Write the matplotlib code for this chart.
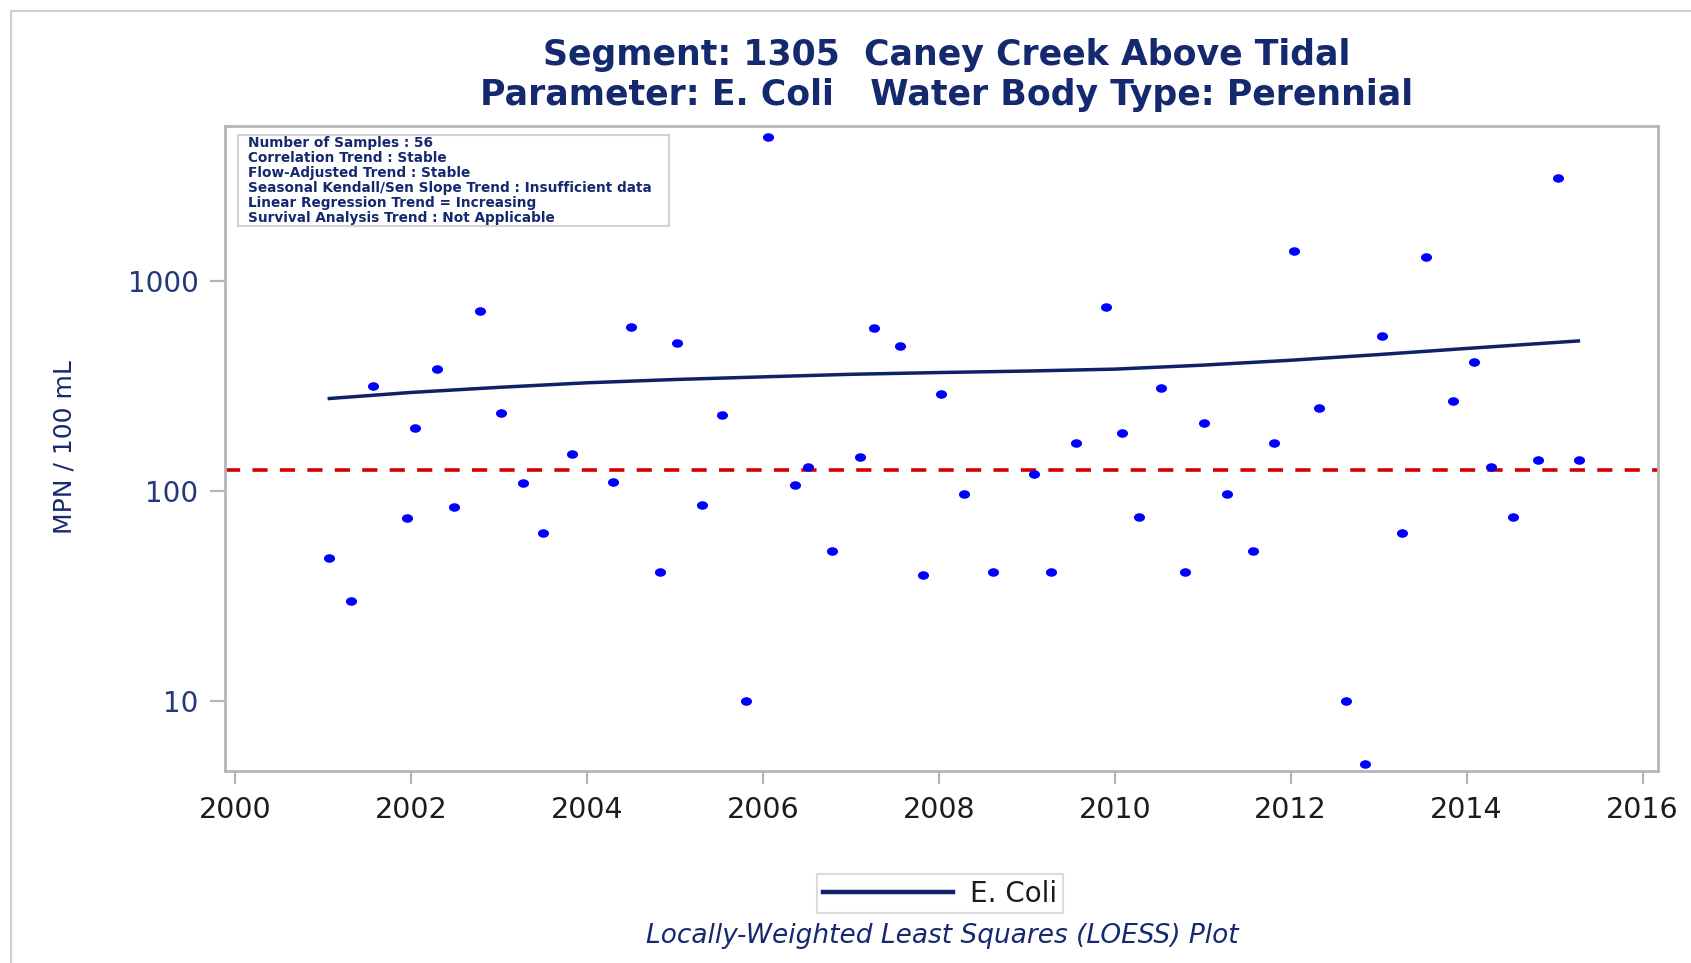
#LOESS trend plot of E. coli samples, segment 1305
import numpy as np
import matplotlib.pyplot as plt
import matplotlib as mpl
from matplotlib.path import Path
from matplotlib.transforms import Affine2D
from matplotlib.patches import Rectangle

fig_w = 1691
fig_h = 963
fig_dpi = 100

mpl.rcParams['font.family'] = 'DejaVu Sans'

navy = '#15296e'
tick_navy = '#24387a'
frame_gray = '#b2b6ba'

# sample dates (decimal years) and results, MPN / 100 mL
sample_year = [2001.07, 2001.32, 2001.57, 2001.95, 2002.04, 2002.29, 2002.49, 2002.78,
               2003.02, 2003.27, 2003.50, 2003.83, 2004.30, 2004.50, 2004.83, 2005.02,
               2005.31, 2005.54, 2005.81, 2006.06, 2006.36, 2006.51, 2006.79, 2007.10,
               2007.26, 2007.56, 2007.82, 2008.02, 2008.28, 2008.62, 2009.08, 2009.27,
               2009.56, 2009.90, 2010.08, 2010.27, 2010.52, 2010.80, 2011.01, 2011.27,
               2011.57, 2011.81, 2012.04, 2012.32, 2012.63, 2012.84, 2013.04, 2013.26,
               2013.54, 2013.85, 2014.08, 2014.28, 2014.53, 2014.81, 2015.04, 2015.28]
ecoli_mpn = [48, 30, 318, 74, 199, 382, 84, 720,
             236, 109, 63, 150, 110, 607, 41, 509,
             86, 230, 10, 4880, 107, 130, 52, 146,
             596, 489, 40, 291, 97, 41, 120, 41,
             170, 751, 190, 75, 309, 41, 211, 97,
             52, 170, 1395, 249, 10, 5, 546, 63,
             1301, 269, 410, 130, 75, 140, 3090, 140]

# smoothed (LOESS) curve
loess_year = [2001.07, 2002.0, 2003.0, 2004.0, 2005.0, 2006.0, 2007.0, 2008.0,
              2009.0, 2010.0, 2011.0, 2012.0, 2013.0, 2014.0, 2015.27]
loess_mpn = [276, 295, 312, 328, 340, 350, 360, 367,
             373, 381, 398, 420, 447, 478, 519]

criterion = 126

stats_lines = ['Number of Samples : 56',
               'Correlation Trend : Stable',
               'Flow-Adjusted Trend : Stable',
               'Seasonal Kendall/Sen Slope Trend : Insufficient data',
               'Linear Regression Trend = Increasing',
               'Survival Analysis Trend : Not Applicable']

year_ticks = list(range(2000, 2017, 2))
mpn_ticks = [10, 100, 1000]


def px(x):
    return x / fig_w


def py(y):
    return 1 - y / fig_h


figure = plt.figure(figsize=(fig_w / fig_dpi, fig_h / fig_dpi), dpi=fig_dpi)
ax = figure.add_axes([px(225), py(770.5), px(1657.5) - px(225), py(126.3) - py(770.5)])

# slightly wide dots
dot = Path.unit_circle().transformed(Affine2D().scale(1.3, 1.0))
ax.plot(sample_year, ecoli_mpn, linestyle='none', marker=dot, markersize=8,
        color='#0000ff', markeredgewidth=0, zorder=3)
ax.plot(loess_year, loess_mpn, color='#0f2266', linewidth=2.5, zorder=4, label='E. Coli')
crit = ax.axhline(criterion, color='#d40000', linewidth=2.6, zorder=2)
crit.set_dashes((4.2, 3.4))

ax.set_yscale('log')
ax.set_xlim(1999.884, 2016.17)
ax.set_ylim(4.66, 5470)
ax.set_xticks(year_ticks)
ax.set_xticklabels([str(y) for y in year_ticks])
ax.set_yticks(mpn_ticks)
ax.set_yticklabels([str(v) for v in mpn_ticks])
ax.yaxis.set_minor_locator(mpl.ticker.NullLocator())
ax.tick_params(axis='x', length=9, width=1.6, color=frame_gray, labelsize=20.5,
               labelcolor='#1c1c1c', pad=9)
ax.tick_params(axis='y', length=11, width=1.6, color=frame_gray, labelsize=20,
               labelcolor=tick_navy, pad=8)
for spine in ax.spines.values():
    spine.set_color(frame_gray)
    spine.set_linewidth(2)

# outer border of the graph area
figure.add_artist(plt.Line2D([px(11), px(11)], [py(11), py(963)], color='#cfcfcf', linewidth=1.5))
figure.add_artist(plt.Line2D([px(11), px(1691)], [py(11), py(11)], color='#cfcfcf', linewidth=1.5))

figure.text(px(947), py(55), 'Segment: 1305  Caney Creek Above Tidal', ha='center', va='center',
            fontsize=25, fontweight='bold', color=navy)
figure.text(px(947), py(95), 'Parameter: E. Coli   Water Body Type: Perennial', ha='center', va='center',
            fontsize=25, fontweight='bold', color=navy)

# trend summary box
figure.add_artist(Rectangle((px(238), py(226)), px(669) - px(238), py(135) - py(226),
                            transform=figure.transFigure, facecolor='white',
                            edgecolor='#d3d3d3', linewidth=1.5, zorder=5))
for i, line in enumerate(stats_lines):
    figure.text(px(248), py(143.4 + 14.9 * i), line, ha='left', va='center', fontsize=9.8,
                fontweight='bold', color=navy, zorder=6)

figure.text(px(65), py(447), 'MPN / 100 mL', rotation=90, ha='center', va='center',
            fontsize=18, color=navy)

leg = figure.legend(loc='center', bbox_to_anchor=(px(940), py(893.5)), fontsize=20,
                    handlelength=4.7, frameon=True, fancybox=False, borderpad=0.2,
                    handletextpad=0.6, borderaxespad=0)
leg.get_frame().set_edgecolor('#d3d3d3')
leg.get_frame().set_linewidth(1.5)
leg.get_lines()[0].set_linewidth(3.2)
leg.get_texts()[0].set_color('#1c1c1c')

figure.text(px(942), py(936), 'Locally-Weighted Least Squares (LOESS) Plot', ha='center', va='center',
            fontsize=19, fontstyle='italic', color=navy)

plt.savefig('out.png', dpi=fig_dpi)
plt.close()
